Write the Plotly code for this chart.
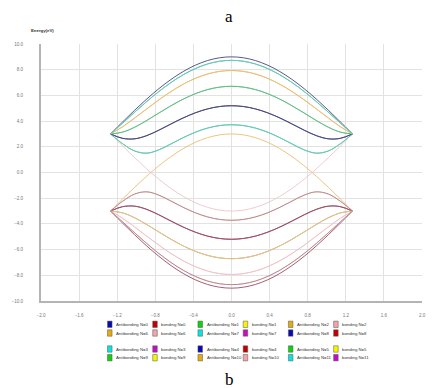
import plotly.graph_objects as go

# ---- data ----
x_vals = [-1.27, -1.143, -1.016, -0.889, -0.762, -0.635, -0.508, -0.381, -0.254, -0.127, 0.0,
          0.127, 0.254, 0.381, 0.508, 0.635, 0.762, 0.889, 1.016, 1.143, 1.27]

anti_L0 = [3.0, 3.939, 4.854, 5.724, 6.527, 7.243, 7.854, 8.346, 8.706, 8.926, 9.0,
           8.926, 8.706, 8.346, 7.854, 7.243, 6.527, 5.724, 4.854, 3.939, 3.0]
anti_L1 = [3.0, 3.842, 4.698, 5.529, 6.306, 7.003, 7.602, 8.085, 8.439, 8.655, 8.728,
           8.655, 8.439, 8.085, 7.602, 7.003, 6.306, 5.529, 4.698, 3.842, 3.0]
anti_L2 = [3.0, 3.563, 4.243, 4.959, 5.658, 6.303, 6.865, 7.322, 7.660, 7.867, 7.937,
           7.867, 7.660, 7.322, 6.865, 6.303, 5.658, 4.959, 4.243, 3.563, 3.0]
anti_L3 = [3.0, 3.143, 3.527, 4.052, 4.630, 5.196, 5.706, 6.130, 6.447, 6.642, 6.708,
           6.642, 6.447, 6.130, 5.706, 5.196, 4.630, 4.052, 3.527, 3.143, 3.0]
anti_L4 = [3.0, 2.658, 2.622, 2.872, 3.295, 3.778, 4.243, 4.641, 4.944, 5.132, 5.196,
           5.132, 4.944, 4.641, 4.243, 3.778, 3.295, 2.872, 2.622, 2.658, 3.0]
anti_L5 = [3.0, 2.237, 1.674, 1.505, 1.764, 2.226, 2.709, 3.131, 3.451, 3.650, 3.718,
           3.650, 3.451, 3.131, 2.709, 2.226, 1.764, 1.505, 1.674, 2.237, 3.0]
anti_L6 = [-3.0, -2.061, -1.146, -0.276, 0.527, 1.243, 1.854, 2.346, 2.706, 2.926, 3.0,
           2.926, 2.706, 2.346, 1.854, 1.243, 0.527, -0.276, -1.146, -2.061, -3.0]

bond_L0 = [-3.0, -3.939, -4.854, -5.724, -6.527, -7.243, -7.854, -8.346, -8.706, -8.926, -9.0,
           -8.926, -8.706, -8.346, -7.854, -7.243, -6.527, -5.724, -4.854, -3.939, -3.0]
bond_L1 = [-3.0, -3.842, -4.698, -5.529, -6.306, -7.003, -7.602, -8.085, -8.439, -8.655, -8.728,
           -8.655, -8.439, -8.085, -7.602, -7.003, -6.306, -5.529, -4.698, -3.842, -3.0]
bond_L2 = [-3.0, -3.563, -4.243, -4.959, -5.658, -6.303, -6.865, -7.322, -7.660, -7.867, -7.937,
           -7.867, -7.660, -7.322, -6.865, -6.303, -5.658, -4.959, -4.243, -3.563, -3.0]
bond_L3 = [-3.0, -3.143, -3.527, -4.052, -4.630, -5.196, -5.706, -6.130, -6.447, -6.642, -6.708,
           -6.642, -6.447, -6.130, -5.706, -5.196, -4.630, -4.052, -3.527, -3.143, -3.0]
bond_L4 = [-3.0, -2.658, -2.622, -2.872, -3.295, -3.778, -4.243, -4.641, -4.944, -5.132, -5.196,
           -5.132, -4.944, -4.641, -4.243, -3.778, -3.295, -2.872, -2.622, -2.658, -3.0]
bond_L5 = [-3.0, -2.237, -1.674, -1.505, -1.764, -2.226, -2.709, -3.131, -3.451, -3.650, -3.718,
           -3.650, -3.451, -3.131, -2.709, -2.226, -1.764, -1.505, -1.674, -2.237, -3.0]
bond_L6 = [3.0, 2.061, 1.146, 0.276, -0.527, -1.243, -1.854, -2.346, -2.706, -2.926, -3.0,
           -2.926, -2.706, -2.346, -1.854, -1.243, -0.527, 0.276, 1.146, 2.061, 3.0]

anti_levels = [anti_L0, anti_L1, anti_L2, anti_L3, anti_L4, anti_L5, anti_L6]
bond_levels = [bond_L0, bond_L1, bond_L2, bond_L3, bond_L4, bond_L5, bond_L6]
level_of_N = [0, 1, 2, 3, 4, 5, 6, 5, 4, 3, 2, 1]
N_values = list(range(12))

y_ticks = [10, 8, 6, 4, 2, 0, -2, -4, -6, -8, -10]
x_ticks = [-2.0, -1.6, -1.2, -0.8, -0.4, 0.0, 0.4, 0.8, 1.2, 1.6, 2.0]

# legend layout (order in which entries appear, row by row)
legend_rows = [[0, 1, 2], [6, 7, 8], [3, 4, 5], [9, 10, 11]]

# ---- styles ----
palette_names = ["blue", "red", "green", "yellow", "orange", "pink", "cyan", "magenta"]
line_colors = {"blue": "#45457e", "red": "#9a4c66", "green": "#66bb6c", "yellow": "#e8d070",
               "orange": "#eabd72", "pink": "#efc4cb", "cyan": "#5ccccb", "magenta": "#b77aa3"}
swatch_colors = {"blue": "#0a0ab0", "red": "#c00000", "green": "#10d010", "yellow": "#f8f400",
                 "orange": "#e4aa10", "pink": "#f2a4a8", "cyan": "#10e0e0", "magenta": "#c010c0"}


def color_name(N, bonding):
    return palette_names[(2 * N + (1 if bonding else 0)) % 8]


fig = go.Figure()
for N in N_values:
    for bonding in (False, True):
        ys = (bond_levels if bonding else anti_levels)[level_of_N[N]]
        name = ("bonding N=%d" if bonding else "Antibonding N=%d") % N
        fig.add_trace(go.Scatter(
            x=x_vals, y=ys, mode="lines", name=name, showlegend=False,
            line=dict(color=line_colors[color_name(N, bonding)], width=0.9, shape="spline"),
        ))

# ---- geometry (pixels) ----
W, H = 438, 388
L, R, T, B = 38, 423, 44, 301


def px_to_paper(px, py):
    return (px - L) / (R - L), (B - py) / (B - T)


shapes = []
annotations = []
col_x = [107.5, 153.2, 198.9, 244.6, 290.3, 336.0]
row_y = [324.3, 333.0, 349.0, 357.7]
for r, Ns in enumerate(legend_rows):
    entries = []
    for N in Ns:
        entries.append((N, False))
        entries.append((N, True))
    for c, (N, bonding) in enumerate(entries):
        cx, cy = col_x[c], row_y[r]
        x0, y0 = px_to_paper(cx - 2.3, cy + 3.2)
        x1, y1 = px_to_paper(cx + 2.3, cy - 3.2)
        shapes.append(dict(type="rect", xref="paper", yref="paper", x0=x0, y0=y0, x1=x1, y1=y1,
                           fillcolor=swatch_colors[color_name(N, bonding)], line=dict(width=0.5,
                           color="#555555")))
        tx, ty = px_to_paper(cx + 4.5, cy)
        name = ("bonding N=%d" if bonding else "Antibonding N=%d") % N
        annotations.append(dict(text=name, xref="paper", yref="paper", x=tx, y=ty,
                                xanchor="left", yanchor="middle", showarrow=False,
                                font=dict(size=4.3, color="#333333", family="Liberation Sans")))

# titles "a", "b", and y-axis label
ax_, ay_ = px_to_paper(228, 17)
annotations.append(dict(text="a", xref="paper", yref="paper", x=ax_, y=ay_, showarrow=False,
                        xanchor="center", yanchor="middle",
                        font=dict(size=17, color="#000000", family="Liberation Serif")))
bx_, by_ = px_to_paper(228, 379)
annotations.append(dict(text="b", xref="paper", yref="paper", x=bx_, y=by_, showarrow=False,
                        xanchor="center", yanchor="middle",
                        font=dict(size=17, color="#000000", family="Liberation Serif")))
ex_, ey_ = px_to_paper(26, 31)
annotations.append(dict(text="<b>Energy(eV)</b>", xref="paper", yref="paper", x=ex_, y=ey_,
                        showarrow=False, xanchor="left", yanchor="middle",
                        font=dict(size=4.3, color="#333333", family="Liberation Sans")))

fig.update_layout(
    width=W, height=H, autosize=False,
    margin=dict(l=L, r=W - R, t=T, b=H - B, pad=0),
    paper_bgcolor="white", plot_bgcolor="white",
    showlegend=False,
    shapes=shapes, annotations=annotations,
    xaxis=dict(range=[-2.0, 2.0], tickvals=x_ticks, tickformat=".1f",
               showgrid=True, gridcolor="#e2e2e2", gridwidth=1,
               zeroline=False, showline=True, linecolor="#b4b4b4", linewidth=2,
               ticks="", ticklabelstandoff=9,
               tickfont=dict(size=4.5, color="#777777", family="Liberation Sans")),
    yaxis=dict(range=[-10, 10], tickvals=y_ticks, tickformat=".1f",
               showgrid=True, gridcolor="#e2e2e2", gridwidth=1,
               zeroline=False, showline=True, linecolor="#b4b4b4", linewidth=2,
               ticks="", ticklabelstandoff=15,
               tickfont=dict(size=4.5, color="#777777", family="Liberation Sans")),
)

fig.write_html("out.html")
